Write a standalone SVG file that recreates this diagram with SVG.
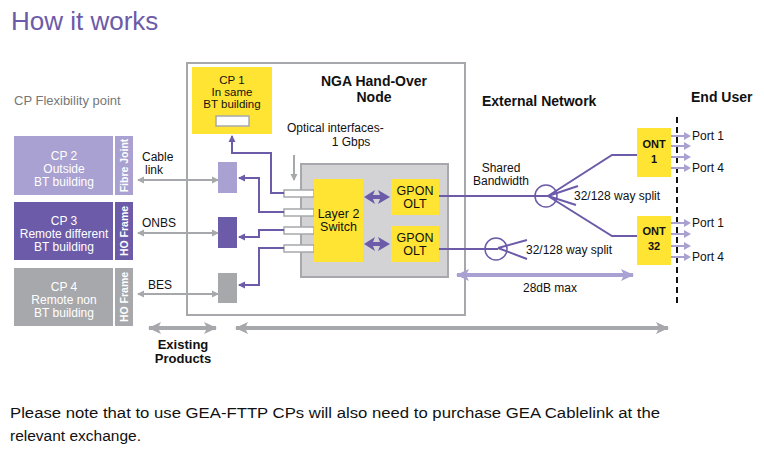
<svg xmlns="http://www.w3.org/2000/svg" width="764" height="454" viewBox="0 0 764 454">
<style>
text{font-family:"Liberation Sans",Arial,sans-serif;}
.t12{font-size:12px;fill:#111;}
.b14{font-size:14px;font-weight:bold;fill:#111;}
.w12{font-size:12px;fill:#fff;text-anchor:middle;}
.c11{font-size:11.5px;fill:#111;text-anchor:middle;}
.vt{font-size:10.5px;font-weight:bold;fill:#fff;text-anchor:middle;}
.yel{fill:#ffe433;}
.pl{fill:none;stroke:#6b5ba8;stroke-width:2;}
.gl{fill:none;stroke:#a7a8ab;stroke-width:2;}
.lp{fill:none;stroke:#a9a1d1;stroke-width:2;}
.port{fill:#fff;stroke:#a7a8ab;stroke-width:1.5;}
</style>
<defs>
<marker id="pa" markerWidth="8" markerHeight="8" refX="6" refY="4" orient="auto" markerUnits="userSpaceOnUse"><path d="M0,0.5 L7,4 L0,7.5 Z" fill="#6b5ba8"/></marker>
<marker id="ga" markerWidth="8" markerHeight="8" refX="6" refY="4" orient="auto-start-reverse" markerUnits="userSpaceOnUse"><path d="M0,0.5 L7,4 L0,7.5 Z" fill="#a7a8ab"/></marker>
<marker id="bigg" markerWidth="14" markerHeight="12" refX="12" refY="6" orient="auto-start-reverse" markerUnits="userSpaceOnUse"><path d="M0,0 L13,6 L0,12 L3,6 Z" fill="#a7a8ab"/></marker>
<marker id="bigl" markerWidth="14" markerHeight="12" refX="12" refY="6" orient="auto-start-reverse" markerUnits="userSpaceOnUse"><path d="M0,0 L13,6 L0,12 L3,6 Z" fill="#a9a1d1"/></marker>
</defs>
<rect width="764" height="454" fill="#fff"/>
<text x="11" y="30" style="font-size:26px;fill:#6b5ba8;">How it works</text>
<text x="14" y="105" style="font-size:13px;fill:#777;">CP Flexibility point</text>

<g id="cp2">
<rect x="14" y="136" width="99" height="59" fill="#a9a1d1"/>
<rect x="115" y="136" width="18" height="59" fill="#a9a1d1"/>
<text class="w12" x="64" y="160">CP 2</text>
<text class="w12" x="64" y="173">Outside</text>
<text class="w12" x="64" y="186">BT building</text>
<text class="vt" transform="translate(128,165.5) rotate(-90)">Fibre Joint</text>
</g>
<g id="cp3">
<rect x="14" y="202" width="99" height="58" fill="#6b5ba8"/>
<rect x="115" y="202" width="18" height="58" fill="#6b5ba8"/>
<text class="w12" x="64" y="225">CP 3</text>
<text class="w12" x="64" y="238">Remote different</text>
<text class="w12" x="64" y="251">BT building</text>
<text class="vt" transform="translate(128,231) rotate(-90)">HO Frame</text>
</g>
<g id="cp4">
<rect x="14" y="268" width="99" height="58" fill="#a7a8ab"/>
<rect x="115" y="268" width="18" height="58" fill="#a7a8ab"/>
<text class="w12" x="64" y="291">CP 4</text>
<text class="w12" x="64" y="304">Remote non</text>
<text class="w12" x="64" y="317">BT building</text>
<text class="vt" transform="translate(128,297) rotate(-90)">HO Frame</text>
</g>

<g id="nga">
<rect x="187" y="63" width="278" height="252" fill="none" stroke="#a7a8ab" stroke-width="2"/>
<text class="b14" x="374" y="86" text-anchor="middle">NGA Hand-Over</text>
<text class="b14" x="374" y="102" text-anchor="middle">Node</text>
<text class="t12" x="287" y="132">Optical interfaces-</text>
<text class="t12" x="351" y="146" text-anchor="middle">1 Gbps</text>
</g>
<g id="cp1">
<rect class="yel" x="192" y="67" width="80" height="67"/>
<rect x="216" y="116" width="33" height="10" fill="#fff" stroke="#a7a8ab" stroke-width="1.5"/>
<text class="c11" x="232" y="84">CP 1</text>
<text class="c11" x="232" y="96">In same</text>
<text class="c11" x="232" y="108">BT building</text>
</g>
<g id="inner">
<rect x="301" y="164" width="147" height="113" fill="#d3d3d6" stroke="#a7a8ab" stroke-width="2"/>
</g>
<g id="ports">
<rect class="port" x="284" y="190" width="30" height="7"/>
<rect class="port" x="284" y="209" width="30" height="7"/>
<rect class="port" x="284" y="227" width="30" height="7"/>
<rect class="port" x="284" y="245" width="30" height="7"/>
</g>
<g id="switch">
<rect class="yel" x="314" y="179" width="49" height="83"/>
<text x="338.5" y="218" style="font-size:12.5px;fill:#111;text-anchor:middle;">Layer 2</text>
<text x="338.5" y="231" style="font-size:12.5px;fill:#111;text-anchor:middle;">Switch</text>
</g>
<g id="olt1">
<rect class="yel" x="391" y="179" width="48" height="36"/>
<text x="415" y="195" style="font-size:12.5px;fill:#111;text-anchor:middle;">GPON</text>
<text x="415" y="208" style="font-size:12.5px;fill:#111;text-anchor:middle;">OLT</text>
</g>
<g id="olt2">
<rect class="yel" x="391" y="226" width="48" height="36"/>
<text x="415" y="242" style="font-size:12.5px;fill:#111;text-anchor:middle;">GPON</text>
<text x="415" y="255" style="font-size:12.5px;fill:#111;text-anchor:middle;">OLT</text>
</g>
<g id="blocks">
<rect x="218" y="162" width="19" height="31" fill="#a9a1d1"/>
<rect x="218" y="217" width="19" height="31" fill="#6b5ba8"/>
<rect x="218" y="273" width="19" height="30" fill="#a7a8ab"/>
</g>
<g id="ont1">
<rect class="yel" x="637" y="128" width="34" height="49"/>
<text x="654" y="148" style="font-size:11px;font-weight:bold;fill:#111;text-anchor:middle;">ONT</text>
<text x="654" y="163" style="font-size:11px;font-weight:bold;fill:#111;text-anchor:middle;">1</text>
</g>
<g id="ont32">
<rect class="yel" x="637" y="216" width="34" height="49"/>
<text x="654" y="235" style="font-size:11px;font-weight:bold;fill:#111;text-anchor:middle;">ONT</text>
<text x="654" y="250" style="font-size:11px;font-weight:bold;fill:#111;text-anchor:middle;">32</text>
</g>
<g id="labels">
<text class="b14" x="482" y="106">External Network</text>
<text class="b14" x="691" y="102">End User</text>
<text class="t12" x="142" y="161">Cable</text>
<text class="t12" x="145" y="174">link</text>
<text class="t12" x="142" y="227">ONBS</text>
<text class="t12" x="148" y="289">BES</text>
<text class="t12" x="501" y="172" text-anchor="middle">Shared</text>
<text class="t12" x="501" y="185" text-anchor="middle">Bandwidth</text>
<text class="t12" x="574" y="200">32/128 way split</text>
<text class="t12" x="526" y="254">32/128 way split</text>
<text class="t12" x="550" y="292" text-anchor="middle">28dB max</text>
<text class="t12" x="692" y="140">Port 1</text>
<text class="t12" x="692" y="172">Port 4</text>
<text class="t12" x="692" y="227">Port 1</text>
<text class="t12" x="692" y="261">Port 4</text>
<text x="183" y="349" style="font-size:13px;font-weight:bold;fill:#111;text-anchor:middle;">Existing</text>
<text x="183" y="363" style="font-size:13px;font-weight:bold;fill:#111;text-anchor:middle;">Products</text>
<text x="10" y="418" style="font-size:15.5px;fill:#111;" textLength="650" lengthAdjust="spacingAndGlyphs">Please note that to use GEA-FTTP CPs will also need to purchase GEA Cablelink at the</text>
<text x="10" y="441" style="font-size:15.5px;fill:#111;">relevant exchange.</text>
</g>
<g id="connectors">
<path class="gl" d="M294,155 V180" marker-end="url(#ga)"/>
<path class="gl" d="M138,180 H218" marker-start="url(#ga)" marker-end="url(#ga)"/>
<path class="gl" d="M138,233 H218" marker-start="url(#ga)" marker-end="url(#ga)"/>
<path class="gl" d="M138,294 H218" marker-start="url(#ga)" marker-end="url(#ga)"/>
<path class="pl" d="M284,193 H271 V153 H232 V136" marker-end="url(#pa)"/>
<path class="pl" d="M284,212 H259 V178 H239" marker-end="url(#pa)"/>
<path class="pl" d="M284,230 H259 V237 H239" marker-end="url(#pa)"/>
<path class="pl" d="M284,248 H259 V285 H239" marker-end="url(#pa)"/>
<path fill="#6b5ba8" d="M364,197 L375,190 L373,195 H380 L378,190 L390,197 L378,204 L380,199 H373 L375,204 Z"/>
<path fill="#6b5ba8" d="M364,244 L375,237 L373,242 H380 L378,237 L390,244 L378,251 L380,246 H373 L375,251 Z"/>
<path class="pl" d="M439,196 H548"/>
<circle cx="546" cy="196" r="11" fill="none" stroke="#6b5ba8" stroke-width="1.5"/>
<path class="pl" stroke-width="1.5" d="M548,196 L612,155 H637 M548,196 L612,236 H637 M548,196 L578,186 M548,196 L576,205"/>
<path class="pl" d="M439,249 H498"/>
<circle cx="496" cy="249" r="11" fill="none" stroke="#6b5ba8" stroke-width="1.5"/>
<path class="pl" stroke-width="1.5" d="M498,248 L527,240 M498,248 L527,259"/>
<path fill="none" stroke="#a9a1d1" stroke-width="4" d="M457,275 H633" marker-start="url(#bigl)" marker-end="url(#bigl)"/>
<path fill="none" stroke="#a7a8ab" stroke-width="4" d="M149,328 H216" marker-start="url(#bigg)" marker-end="url(#bigg)"/>
<path fill="none" stroke="#a7a8ab" stroke-width="4" d="M236,328 H668" marker-start="url(#bigg)" marker-end="url(#bigg)"/>
<path fill="none" stroke="#111" stroke-width="2" stroke-dasharray="6,4" d="M677,117 V305"/>
<path class="lp" stroke-width="1.5" d="M671,136 H689 M671,146 H689 M671,157 H689 M671,168 H689 M671,223 H689 M671,234 H689 M671,246 H689 M671,257 H689"/>
<path fill="#a9a1d1" d="M684,132 L691,136 L684,140 Z M684,142 L691,146 L684,150 Z M684,153 L691,157 L684,161 Z M684,164 L691,168 L684,172 Z M684,219 L691,223 L684,227 Z M684,230 L691,234 L684,238 Z M684,242 L691,246 L684,250 Z M684,253 L691,257 L684,261 Z"/>
</g>
</svg>
